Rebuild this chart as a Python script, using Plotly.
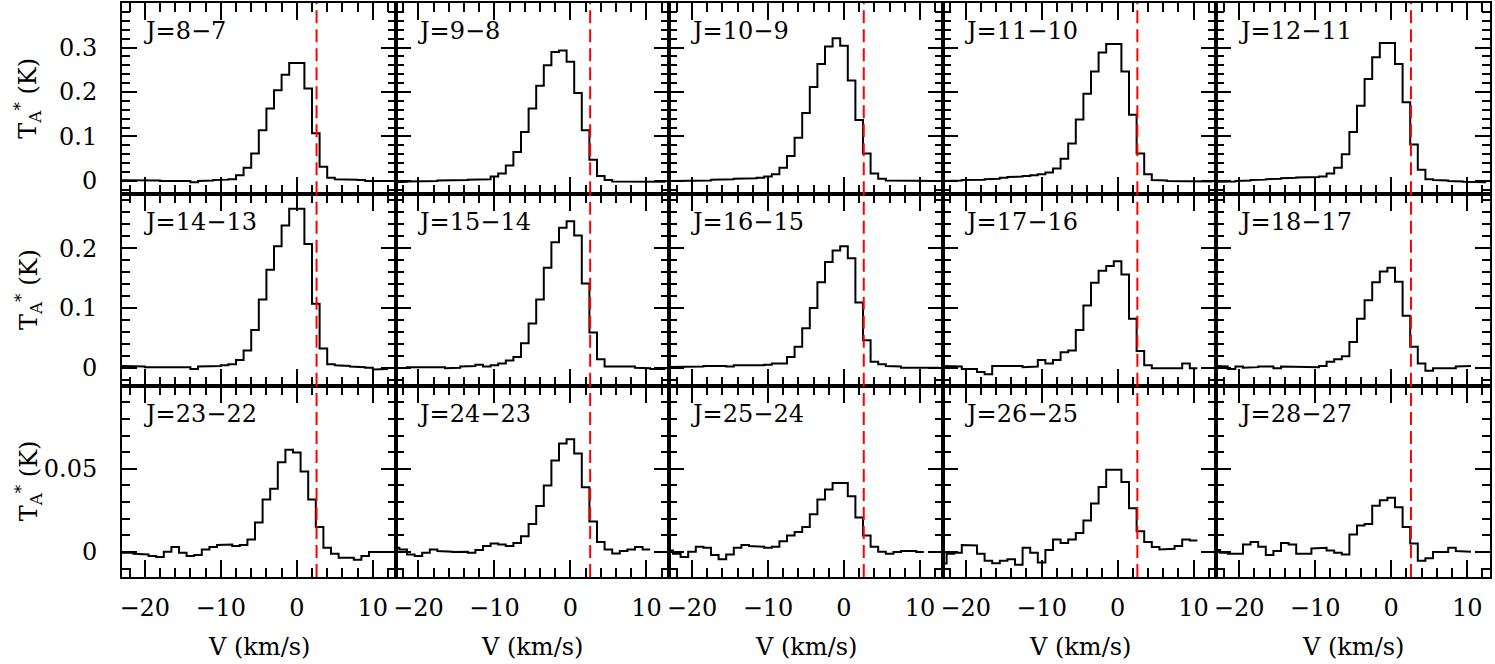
import plotly.graph_objects as go
from plotly.subplots import make_subplots

# ---------------- data ----------------
VEL = [-23, -22, -21, -20, -19, -18, -17, -16, -15, -14, -13, -12, -11, -10, -9, -8, -7, -6,
       -5, -4, -3, -2, -1, 0, 1, 2, 3, 4, 5, 6, 7, 8, 9, 10, 11, 12]  # channel centres (km/s)

LABELS = ["J=8\u22127", "J=9\u22128", "J=10\u22129", "J=11\u221210", "J=12\u221211",
          "J=14\u221213", "J=15\u221214", "J=16\u221215", "J=17\u221216", "J=18\u221217",
          "J=23\u221222", "J=24\u221223", "J=25\u221224", "J=26\u221225", "J=28\u221227"]

# channel-grid offset of each spectrum (km/s)
VEL_SHIFT = [-0.5, 0, 0, 0, 0,
             -0.5, 0, 0, 0, 0,
             0, 0, 0, 0, 0]

J8_7 = [0.002, 0.002, 0.001, 0.001, 0.001, 0.001, 0.000, 0.000, 0.000, 0.000, -0.003,
        0.000, 0.001, 0.002, 0.003, 0.004, 0.013, 0.030, 0.062, 0.114, 0.163, 0.204, 0.239,
        0.265, 0.265, 0.208, 0.107, 0.032, 0.007, 0.004, 0.003, 0.003, 0.002, 0.000, -0.001, 0.000]
J9_8 = [-0.003, -0.002, -0.001, -0.001, 0.000, 0.000, 0.001, 0.001, 0.002, 0.002, 0.003,
        0.004, 0.004, 0.010, 0.017, 0.035, 0.065, 0.110, 0.163, 0.214, 0.260, 0.290, 0.293,
        0.268, 0.198, 0.114, 0.048, 0.011, 0.002, -0.001, -0.002, -0.002, -0.002, -0.002, -0.002, -0.002]
J10_9 = [0.000, 0.000, 0.001, 0.001, 0.001, 0.001, 0.003, 0.004, 0.004, 0.005, 0.006, 0.006, 0.007,
         0.010, 0.015, 0.030, 0.056, 0.097, 0.153, 0.211, 0.263, 0.302, 0.321, 0.304, 0.226, 0.137,
         0.062, 0.017, 0.005, 0.001, 0.000, 0.000, 0.000, 0.000, 0.000, 0.000]
J11_10 = [0.000, 0.001, 0.001, 0.002, 0.002, 0.003, 0.004, 0.005, 0.007, 0.009, 0.010, 0.011, 0.013,
          0.015, 0.019, 0.028, 0.050, 0.084, 0.138, 0.196, 0.246, 0.289, 0.308, 0.308, 0.246, 0.149,
          0.062, 0.015, 0.002, 0.001, 0.000, 0.000, 0.000, 0.000, -0.001, -0.001]
J12_11 = [-0.002, -0.002, -0.001, 0.000, 0.001, 0.002, 0.003, 0.004, 0.005, 0.006, 0.007, 0.008,
          0.008, 0.009, 0.010, 0.017, 0.030, 0.060, 0.110, 0.169, 0.229, 0.278, 0.310, 0.310, 0.263,
          0.177, 0.082, 0.025, 0.004, 0.002, 0.001, 0.000, -0.001, -0.002, -0.003, -0.003]
J14_13 = [0.003, 0.002, 0.002, 0.002, 0.001, 0.001, 0.000, 0.001, 0.001, 0.001, -0.002, 0.002, 0.002,
          0.003, 0.004, 0.006, 0.013, 0.029, 0.063, 0.114, 0.164, 0.203, 0.238, 0.266, 0.266, 0.207,
          0.107, 0.032, 0.006, 0.004, 0.003, 0.002, 0.001, 0.000, -0.003, -0.002]
J15_14 = [-0.001, 0.000, 0.001, 0.001, 0.000, 0.000, 0.001, -0.001, 0.000, 0.002, 0.003, 0.005, 0.002,
          0.004, 0.007, 0.012, 0.018, 0.041, 0.074, 0.114, 0.167, 0.210, 0.234, 0.245, 0.221, 0.141,
          0.059, 0.014, 0.002, 0.003, 0.003, 0.002, 0.000, -0.001, -0.002, -0.002]
J16_15 = [0.001, 0.001, 0.002, 0.002, 0.002, 0.003, 0.004, 0.003, 0.002, 0.004, 0.004, 0.003, 0.004,
          0.005, 0.007, 0.007, 0.018, 0.035, 0.066, 0.100, 0.143, 0.177, 0.196, 0.203, 0.183, 0.109,
          0.046, 0.010, 0.006, 0.003, 0.002, 0.000, 0.000, 0.000, 0.000, 0.000]
J17_16 = [0.003, 0.002, 0.002, -0.002, -0.002, -0.007, -0.011, 0.003, 0.003, 0.003, 0.003, 0.001,
          0.002, 0.013, 0.007, 0.013, 0.026, 0.029, 0.063, 0.104, 0.142, 0.162, 0.170, 0.178, 0.156,
          0.082, 0.028, 0.004, -0.001, -0.001, -0.001, -0.001, 0.007, -0.001, None, None]
J18_17 = [0.003, 0.002, -0.002, 0.002, 0.000, 0.001, 0.002, 0.002, -0.001, 0.002, 0.001, 0.002,
          0.002, 0.001, 0.003, 0.010, 0.014, 0.019, 0.043, 0.082, 0.113, 0.143, 0.161, 0.167, 0.144,
          0.087, 0.035, 0.007, -0.005, -0.001, -0.001, -0.001, 0.002, 0.003, None, None]
J23_22 = [-0.0004, -0.0004, -0.0010, -0.0014, -0.0024, -0.0030, 0.0002, 0.0030, -0.0004, -0.0024,
          -0.0018, 0.0016, 0.0030, 0.0042, 0.0045, 0.0036, 0.0042, 0.0075, 0.0178, 0.0316, 0.0380,
          0.0540, 0.0615, 0.0599, 0.0484, 0.0316, 0.0150, 0.0026, -0.0010, -0.0034, -0.0034,
          -0.0047, -0.0024, 0.0000, 0.0000, None]
J24_23 = [0.0026, 0.0016, -0.0014, -0.0024, -0.0004, 0.0016, 0.0006, 0.0002, 0.0000, 0.0002,
          -0.0004, 0.0012, 0.0036, 0.0051, 0.0045, 0.0036, 0.0055, 0.0095, 0.0168, 0.0277, 0.0400,
          0.0550, 0.0652, 0.0678, 0.0593, 0.0390, 0.0184, 0.0060, 0.0016, -0.0008, 0.0006, 0.0016,
          0.0030, 0.0016, None, None]
J25_24 = [0.0010, -0.0010, -0.0030, 0.0002, 0.0032, 0.0026, -0.0018, -0.0043, -0.0014, 0.0026,
          0.0042, 0.0036, 0.0032, 0.0026, 0.0032, 0.0065, 0.0100, 0.0120, 0.0150, 0.0227, 0.0316,
          0.0376, 0.0415, 0.0415, 0.0336, 0.0207, 0.0099, 0.0032, 0.0002, -0.0010, 0.0000, 0.0006,
          0.0006, 0.0000, None, None]
J26_25 = [-0.0069, -0.0010, -0.0004, 0.0042, 0.0040, -0.0010, -0.0053, -0.0067, -0.0053, -0.0043,
          -0.0077, 0.0026, -0.0004, -0.0063, 0.0012, 0.0075, 0.0055, 0.0075, 0.0115, 0.0190, 0.0292,
          0.0391, 0.0494, 0.0494, 0.0421, 0.0263, 0.0125, 0.0061, 0.0030, 0.0016, 0.0020, 0.0036,
          0.0075, 0.0069, None, None]
J28_27 = [0.0012, -0.0004, -0.0010, -0.0010, 0.0045, 0.0061, 0.0032, -0.0018, 0.0006, 0.0055,
          0.0045, -0.0010, -0.0010, 0.0022, 0.0026, 0.0010, -0.0004, -0.0014, 0.0105, 0.0160, 0.0168,
          0.0279, 0.0312, 0.0326, 0.0269, 0.0150, 0.0051, -0.0053, -0.0038, 0.0000, 0.0000, 0.0026,
          0.0006, 0.0002, None, None]

SPECTRA = [J8_7, J9_8, J10_9, J11_10, J12_11,
           J14_13, J15_14, J16_15, J17_16, J18_17,
           J23_22, J24_23, J25_24, J26_25, J28_27]

REF_VEL = 2.6  # red dashed line (km/s)

X_RANGE = [-23, 13]
X_TICKS = [-20, -10, 0, 10]
X_TICKTEXT = ["\u221220", "\u221210", "0", "10"]
Y_RANGES = [[-0.03, 0.4], [-0.03, 0.29], [-0.015, 0.1]]
Y_TICKS = [[0, 0.1, 0.2, 0.3], [0, 0.1, 0.2], [0, 0.05]]
Y_TICKTEXT = [["0", "0.1", "0.2", "0.3"], ["0", "0.1", "0.2"], ["0", "0.05"]]
Y_MINOR = [0.02, 0.02, 0.01]


def steps(vel, vals, shift):
    xs, ys = [], []
    for v, t in zip(vel, vals):
        if t is None:
            continue
        c = v + shift
        xs += [c - 0.5, c + 0.5]
        ys += [t, t]
    return xs, ys


FONT = "DejaVu Serif"
FS = 24

fig = make_subplots(rows=3, cols=5, horizontal_spacing=0, vertical_spacing=0)

for i, spec in enumerate(SPECTRA):
    r, c = i // 5 + 1, i % 5 + 1
    xs, ys = steps(VEL, spec, VEL_SHIFT[i])
    fig.add_trace(go.Scatter(x=xs, y=ys, mode="lines", line=dict(color="black", width=2),
                             showlegend=False, hoverinfo="skip"), row=r, col=c)
    fig.add_vline(x=REF_VEL, line=dict(color="red", width=2, dash="13px,6px"), row=r, col=c)

    ytext = Y_TICKTEXT[r - 1] if c == 1 else [""] * len(Y_TICKS[r - 1])
    fig.update_xaxes(range=X_RANGE, tickvals=X_TICKS, ticktext=X_TICKTEXT,
                     ticks="inside", ticklen=17, tickwidth=2, tickcolor="black",
                     minor=dict(dtick=2, tick0=0, ticks="inside", ticklen=9, tickwidth=2,
                                tickcolor="black"),
                     mirror="allticks", showline=True, linewidth=2, linecolor="black",
                     showgrid=False, zeroline=False, showticklabels=(r == 3),
                     ticklabelstandoff=8,
                     tickfont=dict(family=FONT, size=FS, color="black"), row=r, col=c)
    fig.update_yaxes(range=Y_RANGES[r - 1], tickvals=Y_TICKS[r - 1], ticktext=ytext,
                     ticks="inside", ticklen=15, tickwidth=2, tickcolor="black",
                     minor=dict(dtick=Y_MINOR[r - 1], tick0=0, ticks="inside", ticklen=8,
                                tickwidth=2, tickcolor="black"),
                     mirror="allticks", showline=True, linewidth=2, linecolor="black",
                     showgrid=False, zeroline=False, showticklabels=True,
                     ticklabelstandoff=18,
                     tickfont=dict(family=FONT, size=FS, color="black"), row=r, col=c)

    axn = "" if i == 0 else str(i + 1)
    fig.add_annotation(text=LABELS[i], xref=f"x{axn} domain", yref=f"y{axn} domain",
                       x=0.07, y=1 - 28 / 192, xanchor="left", yanchor="middle",
                       showarrow=False, font=dict(family=FONT, size=FS, color="black"))

# axis titles
for r in range(3):
    fig.add_annotation(text="T<sub>A</sub><sup>*</sup> (K)", xref="paper", yref="paper",
                       x=-0.0687, y=1 - (r + 0.5) / 3, xanchor="center", yanchor="middle",
                       textangle=-90, showarrow=False,
                       font=dict(family=FONT, size=FS, color="black"))
for c in range(5):
    fig.add_annotation(text="V (km/s)", xref="paper", yref="paper",
                       x=(c + 0.5) / 5, y=-0.1215, xanchor="center", yanchor="middle",
                       showarrow=False, font=dict(family=FONT, size=FS, color="black"))

fig.update_layout(width=1495, height=664, margin=dict(l=122, r=5, t=1, b=87),
                  paper_bgcolor="white", plot_bgcolor="white",
                  font=dict(family=FONT, size=FS, color="black"))

fig.write_html("out.html", config={"displayModeBar": False},
               post_script="document.body.style.margin='0';")
